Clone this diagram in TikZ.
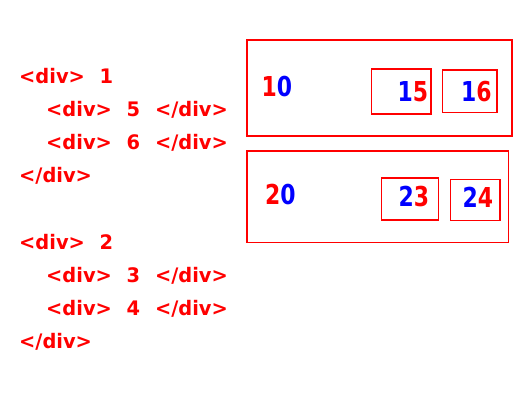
\documentclass[tikz,border=0pt]{standalone}
\usepackage{fontspec}
\setmainfont{DejaVu Sans}
\newfontfamily\codefont{DejaVu Sans}[FakeStretch=0.97,WordSpace=2.2]
\newfontfamily\numfont{DejaVu Sans}[FakeStretch=0.8]
\begin{document}
\begin{tikzpicture}[x=1pt,y=-1pt,
  code/.style={anchor=base west,inner sep=0pt,text=red,font=\fontsize{20}{20}\selectfont\codefont\bfseries},
  num/.style={anchor=base west,inner sep=0pt,font=\fontsize{27.4}{30}\selectfont\numfont\bfseries},
  outerbox/.style={draw=red,line width=1.8pt},
  innerbox/.style={draw=red,line width=1.8pt}]
\useasboundingbox (0,0) rectangle (522,411);
% code text
\node[code] (l1) at (19,83.3) {<div> 1};
\node[code] (l2) at (46,116.5) {<div> 5 </div>};
\node[code] (l3) at (46,149.5) {<div> 6 </div>};
\node[code] (l4) at (19,182.5) {</div>};
\node[code] (l5) at (19,250) {<div> 2};
\node[code] (l6) at (46,283) {<div> 3 </div>};
\node[code] (l7) at (46,316) {<div> 4 </div>};
\node[code] (l8) at (19,349) {</div>};
% boxes
\draw[outerbox] (247,40) rectangle (512,136);
\draw[outerbox] (247,151) rectangle (508.5,242.5);
\draw[innerbox] (371.5,69) rectangle (431,114);
\draw[innerbox] (442.5,70) rectangle (497,112.5);
\draw[innerbox] (381.5,178) rectangle (438.5,220);
\draw[innerbox] (450.5,179.5) rectangle (500,220.5);
% numbers
\node[num] (n10) at (261.5,96.7) {\textcolor{red}{1}\textcolor{blue}{0}};
\node[num] (n15) at (397.5,101.7) {\textcolor{blue}{1}\textcolor{red}{5}};
\node[num] (n16) at (461,101.7) {\textcolor{blue}{1}\textcolor{red}{6}};
\node[num] (n20) at (265,205) {\textcolor{red}{2}\textcolor{blue}{0}};
\node[num] (n23) at (398.5,206.5) {\textcolor{blue}{2}\textcolor{red}{3}};
\node[num] (n24) at (462.5,207.3) {\textcolor{blue}{2}\textcolor{red}{4}};
\end{tikzpicture}
\end{document}
